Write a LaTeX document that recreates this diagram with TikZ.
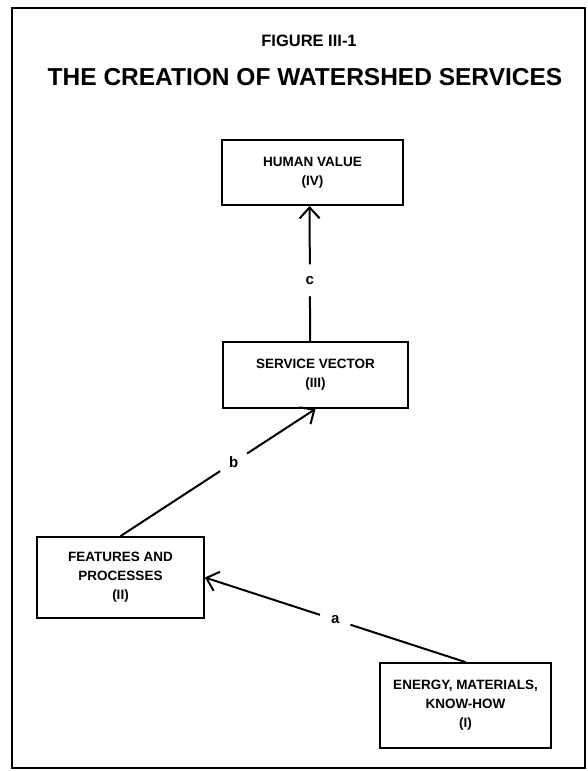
\documentclass[tikz,border=0pt]{standalone}
\usepackage{fontspec}
\setmainfont{Liberation Sans}
\usetikzlibrary{arrows.meta}

\begin{document}
\begin{tikzpicture}
        [x=1pt,y=-1pt,line width=2pt,font=\bfseries,
        box/.style={shape=rectangle,draw,line width=1.8pt,align=center,
          font=\bfseries\fontsize{13.5}{19}\selectfont},
        tag/.style={shape=circle,fill=white,inner sep=0pt,minimum size=32pt,
          font=\bfseries\fontsize{15}{15}\selectfont}]
        \useasboundingbox (0,0) rectangle (588,771);
        \draw[line width=2.5pt] (12,8) rectangle (585,768);
        \node (fig) at (309,41) {\fontsize{16.5}{16.5}\selectfont FIGURE III-1};
        \node (title) at (305,77) {\fontsize{24.5}{24.5}\selectfont THE CREATION OF WATERSHED SERVICES};
        %%
        \node[box,minimum width=181pt,minimum height=65pt] (iv) at (312.5,172.5)
          {HUMAN VALUE\\(IV)};
        \node[box,minimum width=185pt,minimum height=66pt] (iii) at (315.5,375)
          {SERVICE VECTOR\\(III)};
        \node[box,minimum width=167pt,minimum height=81pt] (ii) at (120.5,577.5)
          {FEATURES AND\\PROCESSES\\(II)};
        \node[box,minimum width=171pt,minimum height=85pt] (i) at (465.5,705.5)
          {ENERGY, MATERIALS,\\KNOW-HOW\\(I)};
        \path
        \foreach \startNode/\endNode/\where/\letter in
          {i.north/ii.east/0.5/a, ii.north/iii.south/0.58/b,
           iii.99.5/iv.265.6/0.45/c}
        {
          (\startNode) edge[-{Straight Barb[length=11pt,width=20pt]}]
            node[tag,pos=\where] {\letter} (\endNode)
        };
\end{tikzpicture}
\end{document}
